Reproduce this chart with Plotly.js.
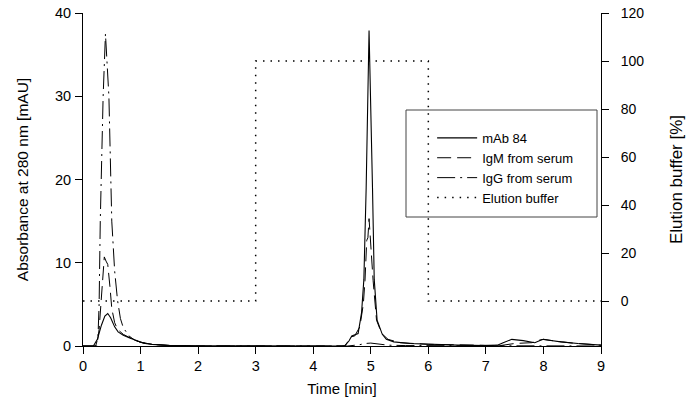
<!DOCTYPE html>
<html><head><meta charset="utf-8">
<script src="https://cdn.plot.ly/plotly-3.0.1.min.js"></script>
<style>body{margin:0;background:#fff}#c{width:695px;height:410px}</style>
</head><body><div id="c"></div>
<script>
// Time [min] and absorbance [mAU]
const mabT = [0,0.18,0.25,0.32,0.38,0.43,0.48,0.55,0.61,0.7,0.8,0.9,1.05,1.2,1.5,2,2.5,3,4,4.5,4.55,4.62,4.67,4.72,4.78,4.84,4.88,4.92,4.97,5.03,5.06,5.11,5.2,5.27,5.4,5.68,6,6.5,7,7.2,7.3,7.45,7.65,7.85,7.95,8.0,8.1,8.3,8.6,9];
const mabY = [0,0,0.8,2.5,3.6,3.9,3.4,2.3,1.7,1.3,1.0,0.72,0.35,0.2,0.08,0.02,0,0,0,0,0.05,0.6,1.2,1.3,1.5,4,8,19,37.9,19,8,3.1,1.4,0.8,0.5,0.3,0.2,0.1,0.05,0.1,0.4,0.8,0.65,0.4,0.7,0.8,0.7,0.5,0.3,0.1];
const igmT = [0,0.24,0.28,0.32,0.35,0.37,0.40,0.43,0.47,0.5,0.55,0.6,0.7,0.8,0.9,1.0,1.2,1.5,2,4.5,4.55,4.6,4.65,4.72,4.81,4.87,4.90,4.93,4.95,4.97,5.0,5.04,5.1,5.19,5.3,5.5,6,7,7.25,7.5,7.8,7.95,8.0,8.2,8.5,9];
const igmY = [0,0,2,6,9.5,10.7,10.2,9.8,7,4.5,2.8,2.0,1.4,1.0,0.7,0.45,0.2,0.05,0,0,0,0.5,1.1,1.2,2.3,5,7.9,12.7,13,15.3,12,7.9,3.1,1.5,0.8,0.4,0.2,0.05,0.05,0.3,0.4,0.75,0.8,0.6,0.35,0.1];
const iggT = [0,0.22,0.26,0.28,0.30,0.35,0.39,0.45,0.50,0.55,0.60,0.65,0.7,0.8,0.9,1.0,1.2,1.5,2,4.6,4.8,4.9,5.0,5.1,5.3,5.6,7,9];
const iggY = [0,0,1,5,15,30,37.5,30,15,9,5.5,3.3,2.2,1.2,0.7,0.45,0.2,0.05,0,0,0.15,0.3,0.35,0.25,0.1,0.05,0,0];
// Elution buffer [%]
const bufT = [0,3,3,6,6,9];
const bufY = [0,0,100,100,0,0];

const names = ['mAb 84','IgM from serum','IgG from serum','Elution buffer'];
const font = 'Liberation Sans, Arial, sans-serif';

const data = [
  {x: mabT, y: mabY, name: names[0], mode:'lines', line:{color:'#000', width:1.1}},
  {x: igmT, y: igmY, name: names[1], mode:'lines', line:{color:'#000', width:1, dash:'14px,6px'}},
  {x: iggT, y: iggY, name: names[2], mode:'lines', line:{color:'#000', width:1, dash:'18px,5px,2px,5px'}},
  {x: bufT, y: bufY, name: names[3], mode:'lines', yaxis:'y2', line:{color:'#000', width:1.5, dash:'1.5px,6px'}}
];

const layout = {
  width:695, height:410,
  margin:{l:83, r:94, t:13, b:64},
  paper_bgcolor:'#fff', plot_bgcolor:'#fff',
  font:{family:font, size:14, color:'#000'},
  showlegend:true,
  legend:{x:0.674, y:0.67, xanchor:'left', yanchor:'top', bgcolor:'rgba(0,0,0,0)', borderwidth:0,
          font:{size:13, family:font}, itemwidth:40, tracegroupgap:0},
  xaxis:{range:[0,9], dtick:1, tick0:0, ticks:'outside', ticklen:7, tickcolor:'#000',
         showline:true, linecolor:'#000', linewidth:1, showgrid:false, zeroline:false,
         tickfont:{size:14.5},
         title:{text:'Time [min]', font:{size:15}, standoff:10}},
  yaxis:{range:[0,40], dtick:10, ticks:'outside', ticklen:7, tickcolor:'#000',
         showline:true, linecolor:'#000', linewidth:1, showgrid:false, zeroline:false,
         tickfont:{size:14.5}, ticklabelstandoff:1,
         title:{text:'Absorbance at 280 nm [mAU]', font:{size:15.5}, standoff:22}},
  yaxis2:{overlaying:'y', side:'right', range:[-18.75,120], tickvals:[0,20,40,60,80,100,120],
          ticks:'outside', ticklen:7, tickcolor:'#000', showline:true, linecolor:'#000', linewidth:1,
          showgrid:false, zeroline:false, tickfont:{size:14}, ticklabelstandoff:9,
          title:{text:'Elution buffer [%]', font:{size:17}, standoff:26}},
  shapes:[{type:'rect', xref:'paper', yref:'paper', x0:(406-83)/518, x1:(597-83)/518,
           y0:(346-217)/333, y1:(346-110)/333, line:{color:'#444', width:1}, fillcolor:'rgba(0,0,0,0)'}]
};
Plotly.newPlot('c', data, layout, {displayModeBar:false, staticPlot:true});
</script></body></html>
